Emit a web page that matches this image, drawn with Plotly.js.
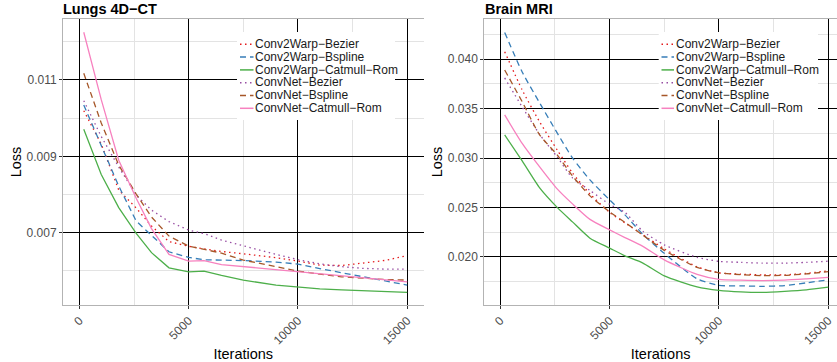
<!DOCTYPE html>
<html>
<head>
<meta charset="utf-8">
<script src="https://cdn.plot.ly/plotly-3.0.1.min.js"></script>
<style>
  html, body { margin: 0; padding: 0; background: #ffffff; }
  #chart { width: 837px; height: 362px; }
</style>
</head>
<body>
<div id="chart"></div>
<script>
// ---------------- data ----------------
const iterations = [200, 1000, 1800, 2600, 3300, 4100, 5000, 5700, 6500, 7500, 9000, 10000, 11000, 12000, 13000, 14000, 15000];

const seriesNames = [
  "Conv2Warp\u2212Bezier",
  "Conv2Warp\u2212Bspline",
  "Conv2Warp\u2212Catmull\u2212Rom",
  "ConvNet\u2212Bezier",
  "ConvNet\u2212Bspline",
  "ConvNet\u2212Catmull\u2212Rom"
];

const panelTitles = ["Lungs 4D\u2212CT", "Brain MRI"];

// Lungs 4D-CT
const lungsConv2WarpBezier    = [0.010195, 0.009322, 0.008117, 0.007645, 0.007173, 0.006767, 0.006641, 0.006578, 0.006507, 0.006447, 0.006345, 0.006256, 0.006151, 0.006138, 0.006203, 0.006274, 0.006400];
const lungsConv2WarpBspline   = [0.010345, 0.009270, 0.008222, 0.007304, 0.006924, 0.006500, 0.006353, 0.006290, 0.006282, 0.006269, 0.006230, 0.006177, 0.006059, 0.005954, 0.005849, 0.005744, 0.005627];
const lungsConv2WarpCatmull   = [0.009710, 0.008523, 0.007658, 0.006979, 0.006476, 0.006080, 0.005975, 0.005993, 0.005881, 0.005757, 0.005626, 0.005569, 0.005529, 0.005501, 0.005474, 0.005446, 0.005435];
const lungsConvNetBezier      = [0.010457, 0.009519, 0.008720, 0.007986, 0.007592, 0.007291, 0.007068, 0.006976, 0.006806, 0.006649, 0.006431, 0.006295, 0.006182, 0.006109, 0.006064, 0.006046, 0.006046];
const lungsConvNetBspline     = [0.011176, 0.009873, 0.008772, 0.008012, 0.007409, 0.006911, 0.006649, 0.006557, 0.006465, 0.006282, 0.006098, 0.005993, 0.005915, 0.005844, 0.005810, 0.005771, 0.005758];
const lungsConvNetCatmull     = [0.012250, 0.010484, 0.008898, 0.007904, 0.007108, 0.006431, 0.006256, 0.006269, 0.006165, 0.006111, 0.006032, 0.005980, 0.005925, 0.005870, 0.005818, 0.005765, 0.005713];

// Brain MRI
const brainConv2WarpBezier    = [0.040769, 0.036893, 0.033654, 0.030820, 0.028492, 0.026366, 0.024494, 0.023431, 0.022267, 0.020799, 0.018978, 0.018370, 0.018239, 0.018168, 0.018168, 0.018320, 0.018573];
const brainConv2WarpBspline   = [0.042713, 0.038715, 0.035577, 0.032541, 0.030010, 0.027783, 0.025759, 0.024241, 0.022318, 0.020344, 0.017763, 0.017105, 0.017055, 0.017004, 0.017085, 0.017358, 0.017662];
const brainConv2WarpCatmull   = [0.032338, 0.029706, 0.026973, 0.025000, 0.023532, 0.021883, 0.020870, 0.020090, 0.019383, 0.018067, 0.016953, 0.016600, 0.016447, 0.016397, 0.016498, 0.016650, 0.016923];
const brainConvNetBezier      = [0.038107, 0.035172, 0.032389, 0.030111, 0.027986, 0.026721, 0.025304, 0.024494, 0.022621, 0.021204, 0.019939, 0.019534, 0.019433, 0.019352, 0.019352, 0.019433, 0.019555];
const brainConvNetBspline     = [0.038917, 0.035700, 0.032338, 0.030314, 0.028188, 0.026164, 0.024545, 0.023482, 0.022217, 0.020648, 0.018927, 0.018370, 0.018188, 0.018087, 0.018117, 0.018269, 0.018492];
const brainConvNetCatmull     = [0.034362, 0.031478, 0.029099, 0.026872, 0.025354, 0.023785, 0.022723, 0.021943, 0.021073, 0.019686, 0.018219, 0.017713, 0.017632, 0.017591, 0.017632, 0.017763, 0.017915];

const lungsSeries = [lungsConv2WarpBezier, lungsConv2WarpBspline, lungsConv2WarpCatmull, lungsConvNetBezier, lungsConvNetBspline, lungsConvNetCatmull];
const brainSeries = [brainConv2WarpBezier, brainConv2WarpBspline, brainConv2WarpCatmull, brainConvNetBezier, brainConvNetBspline, brainConvNetCatmull];

// ---------------- styles ----------------
const W = 837, H = 362;
const M = { l: 0, r: 0, t: 19, b: 57 };
const colors = ["#E41A1C", "#377EB8", "#4DAF4A", "#984EA3", "#A65628", "#F781BF"];
const DOT = "1.5px,3.5px";
const DASH = "6px,4px";
const dashes = [DOT, DASH, "solid", DOT, DASH, "solid"];
const LW = 1.3;
const FONT = "'Liberation Sans', Arial, Helvetica, sans-serif";

const px2x = p => p / W;
const py2y = p => (H - M.b - p) / (H - M.t - M.b);

const traces = [];
lungsSeries.forEach((ys, i) => {
  traces.push({
    type: "scatter", mode: "lines", x: iterations, y: ys, name: seriesNames[i],
    xaxis: "x", yaxis: "y", showlegend: false,
    line: { color: colors[i], width: LW, dash: dashes[i] }
  });
});
brainSeries.forEach((ys, i) => {
  traces.push({
    type: "scatter", mode: "lines", x: iterations, y: ys, name: seriesNames[i],
    xaxis: "x2", yaxis: "y2", showlegend: false,
    line: { color: colors[i], width: LW, dash: dashes[i], shape: "spline", smoothing: 0.6 }
  });
});

function xAxis(domain, range, anchor, mirror) {
  return {
    domain: domain, range: range, anchor: anchor,
    tick0: 0, dtick: 5000, tickformat: "d", tickangle: -45,
    ticks: "outside", ticklen: 3, tickcolor: "#333333",
    tickfont: { family: FONT, size: 12, color: "#4D4D4D" },
    showgrid: true, gridcolor: "#000000", gridwidth: 1,
    minor: { dtick: 2500, tick0: 0, showgrid: true, gridcolor: "#E3E3E3", gridwidth: 1, ticks: "" },
    zeroline: false, showline: true, mirror: mirror, linecolor: "#B3B3B3", linewidth: 1,
    title: { text: "Iterations", font: { family: FONT, size: 14.5, color: "#000000" }, standoff: 2 }
  };
}
function yAxis(domain, range, anchor, dtick, mdtick) {
  return {
    domain: domain, range: range, anchor: anchor,
    tick0: 0, dtick: dtick, tickformat: ".3f",
    ticks: "outside", ticklen: 3, tickcolor: "#333333",
    tickfont: { family: FONT, size: 12, color: "#4D4D4D" },
    showgrid: true, gridcolor: "#000000", gridwidth: 1,
    minor: { dtick: mdtick, tick0: 0, showgrid: true, gridcolor: "#E3E3E3", gridwidth: 1, ticks: "" },
    zeroline: false, showline: true, mirror: false, linecolor: "#B3B3B3", linewidth: 1,
    title: { text: "Loss", font: { family: FONT, size: 14.5, color: "#000000" }, standoff: 1 }
  };
}

const leftDom = [px2x(63), px2x(423.6)];
const rightDom = [px2x(484.3), 1];

const annotations = [];
const shapes = [];

// panel titles
[[panelTitles[0], 63], [panelTitles[1], 484.3]].forEach(([t, x]) => {
  annotations.push({
    xref: "paper", yref: "paper", x: px2x(x) - 0.002, y: py2y(9), xanchor: "left", yanchor: "middle",
    text: "<b>" + t + "</b>", showarrow: false, font: { family: FONT, size: 14.5, color: "#000000" }
  });
});

// legends (inside each panel): one multi-line text block per panel
const legendBoxes = [
  { bx0: 237, bx1: 395, kx0: 240, kx1: 253.5, tx: 254 },
  { bx0: 658.7, bx1: 818, kx0: 661.5, kx1: 674, tx: 674.5 }
];
const legendY0 = 44.3, legendStep = 12.8;
const legendText = seriesNames.map(n => '<span style="font-size:12px">' + n + '</span>').join("<br>");
legendBoxes.forEach(lb => {
  shapes.push({
    type: "rect", xref: "paper", yref: "paper", layer: "above",
    x0: px2x(lb.bx0), x1: px2x(lb.bx1), y0: py2y(32), y1: py2y(120),
    fillcolor: "#FFFFFF", line: { width: 0 }
  });
  seriesNames.forEach((nm, i) => {
    const yc = legendY0 + i * legendStep;
    shapes.push({
      type: "line", xref: "paper", yref: "paper", layer: "above",
      x0: px2x(lb.kx0), x1: px2x(lb.kx1), y0: py2y(yc), y1: py2y(yc),
      line: { color: colors[i], width: LW + 0.2, dash: dashes[i] }
    });
  });
  annotations.push({
    xref: "paper", yref: "paper", x: px2x(lb.tx), y: py2y(legendY0 + 2.5 * legendStep), xanchor: "left", yanchor: "middle",
    align: "left", text: legendText, showarrow: false,
    font: { family: FONT, size: legendStep / 1.3, color: "#1A1A1A" }, borderpad: 0
  });
});

const layout = {
  width: W, height: H, margin: M,
  paper_bgcolor: "#FFFFFF", plot_bgcolor: "#FFFFFF",
  showlegend: false,
  font: { family: FONT },
  xaxis: xAxis(leftDom, [-750, 15750], "y", true),
  yaxis: Object.assign(yAxis([0, 1], [0.005105, 0.012598], "x", 0.002, 0.001), { tick0: 0.001 }),
  xaxis2: xAxis(rightDom, [-732, 15398], "y2", true),
  yaxis2: yAxis([0, 1], [0.015114, 0.044077], "x2", 0.005, 0.0025),
  annotations: annotations,
  shapes: shapes
};

Plotly.newPlot("chart", traces, layout, { staticPlot: true, displayModeBar: false });
</script>
</body>
</html>
